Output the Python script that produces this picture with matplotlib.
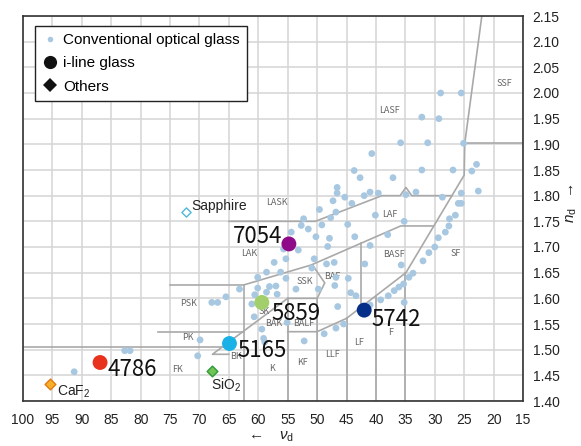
import numpy as np
import matplotlib
matplotlib.use("Agg")
import matplotlib.pyplot as plt
from matplotlib.lines import Line2D

plt.rcParams['font.family'] = ['Liberation Sans', 'DejaVu Sans']
plt.rcParams['mathtext.fontset'] = 'custom'
plt.rcParams['mathtext.rm'] = 'Liberation Sans'
plt.rcParams['mathtext.it'] = 'Liberation Sans:italic'
NARROW = ['Noto Sans CJK JP', 'DejaVu Sans']

# conventional optical glass (vd, nd)
conv_vd = [29.0, 25.5, 32.2, 29.3, 35.8, 31.2, 25.1, 40.7, 43.7, 42.7, 37.1, 32.2, 26.9, 23.7, 22.9,
           46.6, 46.6, 45.3, 42.0, 41.0, 39.6, 34.9, 33.2, 28.7, 25.5, 22.6, 47.3,
           44.1, 26.0, 25.5, 26.5, 27.5, 27.6, 28.2, 29.4, 30.0, 49.6, 52.3, 47.7, 46.8, 51.5, 49.2,
           44.8, 40.1, 35.2, 38.0, 43.6, 50.2, 47.9, 48.2, 41.0,
           31.0, 32.0, 33.7, 34.4, 35.3, 36.1, 36.9, 37.9, 39.2, 35.2, 35.7, 41.9, 46.8, 44.7, 44.3,
           43.4, 47.0, 46.5, 41.0,
           52.7, 54.4, 53.2, 55.3, 50.5, 48.4, 47.1, 50.9, 55.3, 53.6, 49.8, 55.1, 48.8, 46.8, 45.5, 52.2,
           63.2, 60.6, 61.1, 60.7, 59.4, 59.1, 58.9, 58.6, 56.2, 55.7, 57.3, 60.1, 60.1, 65.5, 67.9, 66.9,
           58.1, 57.0, 58.6, 56.8, 69.9, 70.3, 91.3, 82.7, 81.8]
conv_nd = [2.000, 2.000, 1.953, 1.950, 1.903, 1.903, 1.902, 1.882, 1.849, 1.835, 1.835, 1.850, 1.850, 1.848, 1.861,
           1.816, 1.805, 1.797, 1.800, 1.807, 1.805, 1.802, 1.807, 1.797, 1.805, 1.809, 1.790,
           1.785, 1.785, 1.785, 1.762, 1.755, 1.741, 1.729, 1.718, 1.700, 1.773, 1.755, 1.757, 1.768, 1.735, 1.743,
           1.744, 1.762, 1.750, 1.724, 1.720, 1.720, 1.717, 1.701, 1.703,
           1.689, 1.673, 1.649, 1.641, 1.628, 1.622, 1.615, 1.605, 1.597, 1.592, 1.665, 1.667, 1.641, 1.639, 1.611,
           1.605, 1.625, 1.584, 1.587,
           1.742, 1.729, 1.694, 1.677, 1.677, 1.667, 1.670, 1.659, 1.639, 1.618, 1.618, 1.553, 1.531, 1.542, 1.550, 1.517,
           1.618, 1.607, 1.589, 1.564, 1.540, 1.522, 1.515, 1.651, 1.651, 1.696, 1.670, 1.641, 1.620, 1.603, 1.592, 1.592,
           1.623, 1.624, 1.612, 1.608, 1.519, 1.488, 1.457, 1.498, 1.498]

# i-line glass
iline_names = ['7054', '5859', '5165', '5742', '4786']
iline_vd = [54.8, 59.4, 64.9, 42.0, 86.9]
iline_nd = [1.706, 1.592, 1.512, 1.577, 1.475]
iline_colors = ['#8e0a88', '#a2cf6c', '#1ab1e6', '#062f8a', '#e8321e']
iline_offsets = [(-4.5, 0.7), (7.2, -12.5), (5.8, -9.4), (5.5, -11.5), (5.3, -9.4)]

# others
other_names = ['Sapphire', 'CaF$_2$', 'SiO$_2$']
other_vd = [72.3, 95.4, 67.8]
other_nd = [1.768, 1.434, 1.458]

# glass-type region labels
region_names = ['SSF', 'LASF', 'LASK', 'LAF', 'LAK', 'BASF', 'SF', 'SSK', 'BAF', 'PSK', 'SK', 'BAK',
                'BALF', 'PK', 'BK', 'FK', 'K', 'KF', 'LLF', 'LF', 'F']
region_vd = [18.2, 37.7, 56.9, 37.6, 61.5, 37.0, 26.4, 52.1, 47.5, 71.9, 59.0, 57.3,
             52.3, 72.0, 63.8, 73.7, 57.6, 52.5, 47.4, 42.8, 37.5]
region_nd = [2.018, 1.965, 1.787, 1.764, 1.687, 1.686, 1.688, 1.633, 1.642, 1.589, 1.574, 1.551,
             1.551, 1.523, 1.486, 1.462, 1.464, 1.475, 1.491, 1.514, 1.533]

# region boundaries
boundaries = [
    [(22.0, 2.15), (24.9, 1.902), (25.0, 1.840), (34.9, 1.650), (45.0, 1.561), (50.0, 1.535), (55.0, 1.535)],
    [(24.9, 1.902), (15.0, 1.902)],
    [(65.0, 1.750), (50.3, 1.750), (39.0, 1.800), (35.9, 1.800), (34.9, 1.816), (33.9, 1.800), (27.1, 1.800)],
    [(75.0, 1.626), (62.5, 1.626), (51.0, 1.665), (35.8, 1.741), (30.3, 1.741)],
    [(62.5, 1.626), (62.5, 1.40)],
    [(77.0, 1.535), (62.5, 1.535)],
    [(100.0, 1.505), (66.0, 1.505)],
    [(65.0, 1.491), (67.8, 1.491), (55.0, 1.600), (50.0, 1.600), (50.0, 1.40)],
    [(55.0, 1.40), (55.0, 1.600)],
    [(50.0, 1.600), (48.7, 1.630), (50.8, 1.665)],
    [(42.5, 1.707), (42.5, 1.583)],
    [(45.0, 1.40), (45.0, 1.561)],
    [(40.0, 1.40), (40.0, 1.605)],
    [(35.0, 1.40), (35.0, 1.650)],
]

fig = plt.figure(figsize=(5.81, 4.46), dpi=100)
ax = fig.add_axes([23 / 581, 1 - 401 / 446, 500 / 581, 385 / 446])

ax.set_xlim(100, 15)
ax.set_ylim(1.40, 2.15)
ax.set_xticks(np.arange(100, 14, -5))
ax.set_yticks(np.arange(1.40, 2.151, 0.05))
ax.set_yticklabels(['%.2f' % v for v in np.arange(1.40, 2.151, 0.05)])
ax.yaxis.tick_right()
ax.tick_params(length=0, labelsize=10, colors='#222222')
ax.tick_params(axis='x', pad=9)
ax.tick_params(axis='y', pad=7)
ax.grid(color='#d5d5d5', linewidth=1.1)
ax.set_axisbelow(True)
for s in ax.spines.values():
    s.set_color('#333333')
    s.set_linewidth(1.2)

for line in boundaries:
    xs, ys = zip(*line)
    ax.plot(xs, ys, color='#a9a9a9', linewidth=1.2, zorder=2)

for name, x, y in zip(region_names, region_vd, region_nd):
    ax.text(x, y, name, fontsize=6.5, color='#666666', ha='center', va='center', family=NARROW, zorder=3)

ax.scatter(conv_vd, conv_nd, s=24, color='#a8c8e2', edgecolors='none', zorder=4)

for name, x, y, c, off in zip(iline_names, iline_vd, iline_nd, iline_colors, iline_offsets):
    ax.scatter([x], [y], s=115, color=c, edgecolors='none', zorder=5)
    ax.annotate(name, (x, y), xytext=off, textcoords='offset points', fontsize=16,
                family=NARROW, ha='right' if off[0] < 0 else 'left', va='baseline',
                color='#111111', zorder=6)

ax.scatter([other_vd[0]], [other_nd[0]], marker='D', s=22, facecolor='white', edgecolors='#4fb8d8',
           linewidths=1.0, zorder=5)
ax.scatter([other_vd[1]], [other_nd[1]], marker='D', s=30, facecolor='#f6b02a', edgecolors='#e07a10',
           linewidths=1.0, zorder=5)
ax.scatter([other_vd[2]], [other_nd[2]], marker='D', s=30, facecolor='#72c454', edgecolors='#2f9a3c',
           linewidths=1.0, zorder=5)
other_offsets = [(4.1, 1.7), (5.3, -8.4), (-1.0, -13.2)]
for name, x, y, off in zip(other_names, other_vd, other_nd, other_offsets):
    ax.annotate(name, (x, y), xytext=off, textcoords='offset points', fontsize=10,
                ha='left', va='baseline', color='#222222', zorder=6)

handles = [
    Line2D([], [], linestyle='none', marker='o', markersize=4, color='#a8c8e2', markeredgewidth=0),
    Line2D([], [], linestyle='none', marker='o', markersize=9.5, color='#111111', markeredgewidth=0),
    Line2D([], [], linestyle='none', marker='D', markersize=7, color='#111111', markeredgewidth=0),
]
leg = ax.legend(handles, ['Conventional optical glass', 'i-line glass', 'Others'],
                loc='upper left', bbox_to_anchor=(0.024, 0.974), borderaxespad=0,
                fontsize=11, fancybox=False, framealpha=1, edgecolor='#222222',
                handlelength=1.0, handletextpad=0.4, borderpad=0.45, labelspacing=0.62)
leg.get_frame().set_linewidth(1.0)
leg.set_zorder(10)

fig.text(270 / 581, 1 - 437 / 446, r'$\leftarrow$   $\nu_{\rm d}$', fontsize=11,
         ha='center', va='center', color='#222222')
fig.text(572 / 581, 1 - 203 / 446, r'$n_{\rm d}$  $\rightarrow$', fontsize=11, rotation=90,
         ha='center', va='center', color='#222222')

fig.savefig('out.png', dpi=100)
